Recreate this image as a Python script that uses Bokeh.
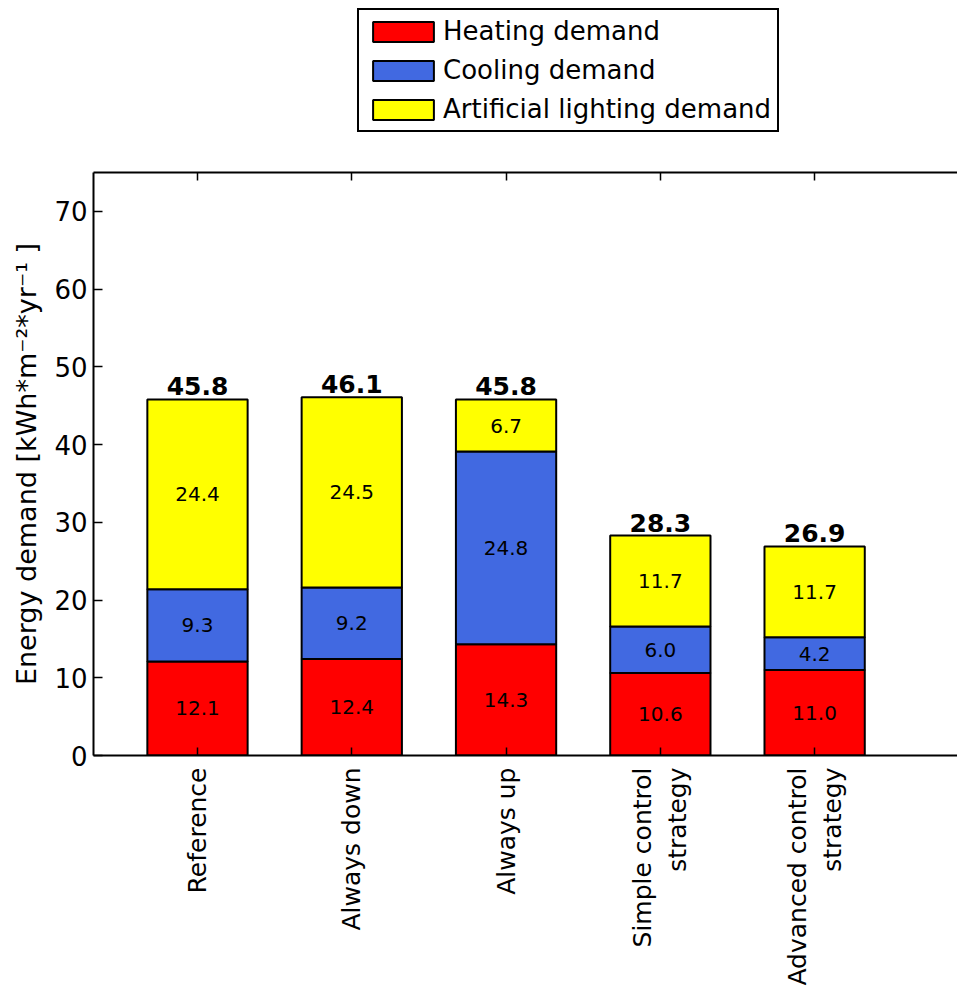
import math
from bokeh.plotting import figure
from bokeh.layouts import column
from bokeh.models import ColumnDataSource, FixedTicker, LinearAxis, Range1d, Legend
from bokeh.core.properties import value
from bokeh.embed import file_html
from bokeh.resources import INLINE

# ---- data ----
scenarios = ["Reference", "Always down", "Always up",
             "Simple control\nstrategy", "Advanced control\nstrategy"]
heating = [12.1, 12.4, 14.3, 10.6, 11.0]
cooling = [9.3, 9.2, 24.8, 6.0, 4.2]
lighting = [24.4, 24.5, 6.7, 11.7, 11.7]
series_keys = ["heating", "cooling", "lighting"]
series_names = ["Heating demand", "Cooling demand", "Artificial lighting demand"]
series_colors = ["#ff0000", "#4169e1", "#ffff00"]
y_ticks = [0, 10, 20, 30, 40, 50, 60, 70]

FONT = "DejaVu Sans"
x = list(range(len(scenarios)))
totals = [round(h + c + l, 1) for h, c, l in zip(heating, cooling, lighting)]

src = ColumnDataSource(dict(x=x, heating=heating, cooling=cooling, lighting=lighting))

LEG_H = 140
p = figure(width=957, height=988 - LEG_H, x_range=Range1d(-0.674, 4.926), y_range=Range1d(0, 75),
           output_backend="svg", toolbar_location=None,
           min_border_left=93, min_border_right=0, min_border_top=172 - LEG_H, min_border_bottom=0)
p.xgrid.visible = False
p.ygrid.visible = False
p.outline_line_color = None
p.background_fill_color = "white"

rs = p.vbar_stack(series_keys, x="x", width=0.65, source=src, fill_color=series_colors,
                  line_color="black", line_width=2)

# segment labels
seg_x, seg_y, seg_t = [], [], []
for i in x:
    base = 0.0
    for vals in (heating, cooling, lighting):
        v = vals[i]
        seg_x.append(i)
        seg_y.append(base + v / 2)
        seg_t.append(f"{v:.1f}")
        base += v
p.text(x=seg_x, y=seg_y, text=seg_t, text_align="center", text_baseline="middle",
       text_font=value(FONT), text_font_size="20px", text_color="black")

# totals
p.text(x=x, y=totals, text=[f"{t:.1f}" for t in totals], text_align="center",
       text_baseline="bottom", y_offset=-4, text_font=value(FONT), text_font_size="25px",
       text_font_style="bold", text_color="black")

# axes
xa = p.xaxis[0]
xa.ticker = FixedTicker(ticks=x)
xa.major_label_overrides = {i: s for i, s in zip(x, scenarios)}
xa.major_label_orientation = math.pi / 2
xa.major_label_text_font = FONT
xa.major_label_text_font_size = "25px"
xa.major_label_text_color = "black"
xa.major_label_standoff = 12
xa.major_tick_in = 8
xa.major_tick_out = 0
xa.minor_tick_line_color = None
xa.axis_line_width = 2
xa.major_tick_line_width = 1.5

ya = p.yaxis[0]
ya.ticker = FixedTicker(ticks=y_ticks)
ya.major_label_text_font = FONT
ya.major_label_text_font_size = "26px"
ya.major_label_text_color = "black"
ya.major_label_standoff = 6
ya.major_tick_in = 9
ya.major_tick_out = 0
ya.minor_tick_line_color = None
ya.axis_line_width = 2
ya.major_tick_line_width = 1.5
ya.axis_label = "Energy demand [kWh*m⁻²*yr⁻¹ ]"
ya.axis_label_text_font = FONT
ya.axis_label_text_font_size = "27px"
ya.axis_label_text_font_style = "normal"
ya.axis_label_text_color = "black"
ya.axis_label_standoff = 9

top = LinearAxis(ticker=FixedTicker(ticks=x), major_label_text_color=None,
                 major_tick_in=8, major_tick_out=0, minor_tick_line_color=None,
                 axis_line_width=2, major_tick_line_width=1.5,
                 major_label_text_font_size="1px")
p.add_layout(top, "above")

# legend strip on top: hidden renderers with the bar styling feed the legend
lf = figure(width=957, height=LEG_H, x_range=Range1d(-0.674, 4.926), y_range=Range1d(0, 75),
            output_backend="svg", toolbar_location=None, x_axis_type=None, y_axis_type=None,
            min_border=0)
lf.xgrid.visible = False
lf.ygrid.visible = False
lf.outline_line_color = None
leg_rs = [lf.vbar(x="x", top=k, width=0.65, source=src, fill_color=c,
                  line_color="black", line_width=2, visible=False)
          for k, c in zip(series_keys, series_colors)]
leg = Legend(items=[(n, [r]) for n, r in zip(series_names, leg_rs)])
leg.location = (264, LEG_H - 132)
leg.orientation = "vertical"
leg.border_line_color = "black"
leg.border_line_alpha = 1.0
leg.border_line_width = 2
leg.padding = 6
leg.spacing = 9
leg.margin = 0
leg.glyph_width = 76
leg.glyph_height = 25
leg.label_height = 25
leg.label_standoff = 2
leg.label_text_font = FONT
leg.label_text_font_size = "26px"
leg.label_text_color = "black"
leg.background_fill_alpha = 1.0
leg.inactive_fill_alpha = 0.0
lf.add_layout(leg)

layout = column(lf, p, spacing=0)
open("out.html", "w").write(file_html(layout, INLINE))
